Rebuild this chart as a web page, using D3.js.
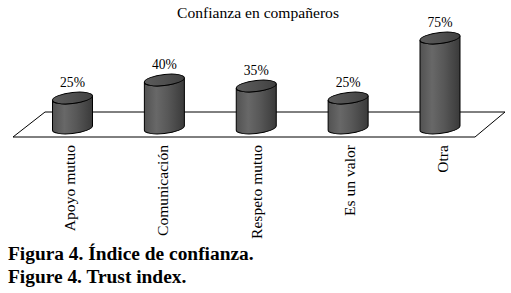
<!DOCTYPE html>
<html><head><meta charset="utf-8">
<script src="https://cdn.jsdelivr.net/npm/d3@7"></script>
<style>body{margin:0;background:#fff;}svg{display:block;} svg text{font-family:"Liberation Serif","Times New Roman",Times,Tinos,"DejaVu Serif",serif;}</style>
</head><body>
<svg id="c" width="511" height="293"></svg>
<script>
const categories = ["Apoyo mutuo","Comunicación","Respeto mutuo","Es un valor","Otra"];
const values = [25, 40, 35, 25, 75];
const valueLabels = ["25%","40%","35%","25%","75%"];
const title = "Confianza en compañeros";
const captions = ["Figura 4. Índice de confianza.","Figure 4. Trust index."];

const svg = d3.select("#c");

const x = d3.scalePoint().domain(categories).range([72.5, 440]);
const xl = d3.scalePoint().domain(categories).range([70, 443]);
const y = d3.scaleLinear().domain([0, 100]).range([128, 8]);

const defs = svg.append("defs");
const g1 = defs.append("linearGradient").attr("id","body").attr("x1","0").attr("x2","1").attr("y1","0").attr("y2","0");
[[0,"#525252"],[0.3,"#686868"],[0.6,"#575757"],[1,"#3a3a3a"]].forEach(([o,c])=>g1.append("stop").attr("offset",o).attr("stop-color",c));
const g2 = defs.append("linearGradient").attr("id","top").attr("x1","0").attr("x2","1").attr("y1","0").attr("y2","0");
[[0,"#5c5c5c"],[0.5,"#505050"],[1,"#404040"]].forEach(([o,c])=>g2.append("stop").attr("offset",o).attr("stop-color",c));

// title
svg.append("text").attr("x",258).attr("y",18.3).attr("text-anchor","middle")
  .style("font-size","15.6px").attr("fill","#000").text(title);

// floor
const floorPts = [[45,112],[505,112],[475,137],[13,137]];
svg.append("path").attr("d", d3.line()(floorPts)+"Z").attr("fill","none").attr("stroke","#000").attr("stroke-width",1);

const rx = 20, ry = 5.5, skew = -6;
const bars = svg.selectAll("g.bar").data(categories).join("g").attr("class","bar")
  .attr("transform", d => `translate(${x(d)},0) skewY(${skew})`);
bars.each(function(d,i){
  const g = d3.select(this);
  const yt = y(values[i]), yb = y(0);
  const p = `M${-rx},${yt} L${-rx},${yb} A${rx},${ry} 0 0 0 ${rx},${yb} L${rx},${yt} A${rx},${ry} 0 0 1 ${-rx},${yt} Z`;
  g.append("path").attr("d",p).attr("fill","url(#body)").attr("stroke","#000").attr("stroke-width",1);
  g.append("ellipse").attr("cx",0).attr("cy",yt).attr("rx",rx).attr("ry",ry)
    .attr("fill","url(#top)").attr("stroke","#000").attr("stroke-width",1);
});

// value labels
svg.selectAll("text.val").data(categories).join("text").attr("class","val")
  .attr("x", d => x(d)).attr("y", (d,i) => y(values[i]) - ry - 5.5)
  .attr("text-anchor","middle").style("font-size","13.6px")
  .attr("fill","#000").text((d,i)=>valueLabels[i]);

// category labels
svg.selectAll("text.cat").data(categories).join("text").attr("class","cat")
  .attr("transform", d => `translate(${xl(d)+5},145) rotate(-90)`)
  .attr("text-anchor","end").style("font-size","15.6px")
  .attr("fill","#000").text(d=>d);

// captions
svg.selectAll("text.cap").data(captions).join("text").attr("class","cap")
  .attr("x",8).attr("y",(d,i)=>260 + i*23.3)
  .style("font-weight","bold").style("font-size","19.4px")
  .attr("fill","#000").text(d=>d);
</script>
</body></html>
